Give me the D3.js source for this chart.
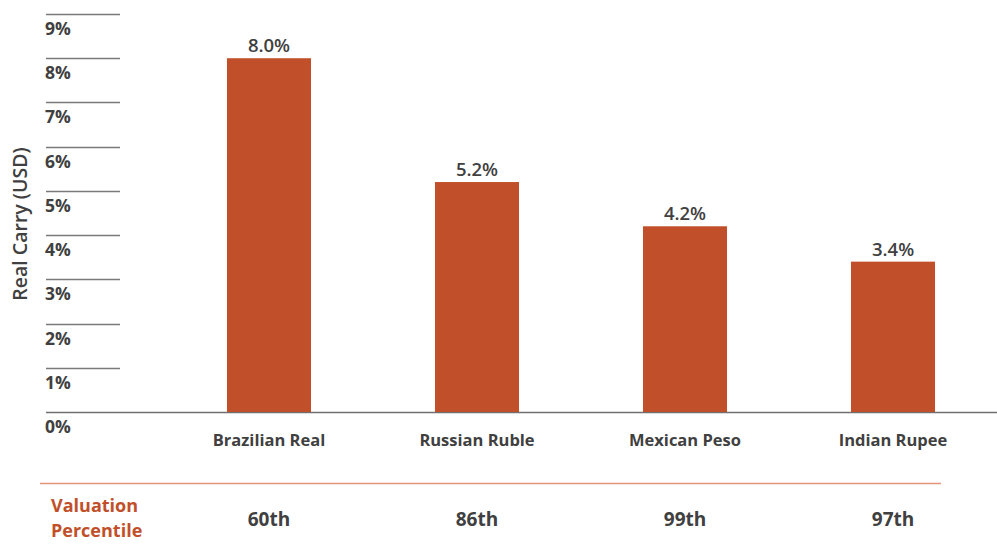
<!DOCTYPE html>
<html>
<head>
<meta charset="utf-8">
<script src="https://cdn.jsdelivr.net/npm/d3@7"></script>
<style>
  html, body { margin: 0; padding: 0; background: #ffffff; }
  svg { display: block; font-family: "Open Sans", "Noto Sans", sans-serif; }
</style>
</head>
<body>
<svg id="chart" width="997" height="547"></svg>
<script>
// Real carry by currency, with valuation percentile shown beneath
const currencies = ["Brazilian Real", "Russian Ruble", "Mexican Peso", "Indian Rupee"];
const realCarry = [8.0, 5.2, 4.2, 3.4];
const percentiles = ["60th", "86th", "99th", "97th"];
const yTicks = [0, 1, 2, 3, 4, 5, 6, 7, 8, 9];

const barColor = "#c1502a";
const textColor = "#404040";
const accent = "#c1502a";

const svg = d3.select("#chart");

const y = d3.scaleLinear().domain([0, 9]).range([412, 14]);
const x = d3.scaleBand().domain(currencies).range([103, 1059]).padding(0.596);

// Horizontal tick rules with labels sitting just under each one
const tick = svg.append("g").selectAll("g").data(yTicks).join("g")
  .attr("transform", d => `translate(0,${Math.round(y(d)) + 0.5})`);
tick.append("line")
  .attr("x1", 46).attr("x2", d => d === 0 ? 997 : 120)
  .attr("stroke", d => d === 0 ? "#707070" : "#7a7a7a")
  .attr("stroke-width", 1.3);
tick.append("text")
  .attr("x", 45).attr("y", 20.5)
  .attr("fill", textColor)
  .attr("font-size", 17.5).attr("font-weight", 700)
  .text(d => d + "%");

// Axis title
svg.append("text")
  .attr("transform", "translate(27,224) rotate(-90)")
  .attr("text-anchor", "middle")
  .attr("fill", textColor)
  .attr("font-size", 19.5).attr("font-weight", 600)
  .text("Real Carry (USD)");

// Bars
const data = currencies.map((c, i) => ({ c, v: realCarry[i], p: percentiles[i] }));
svg.append("g").selectAll("rect").data(data).join("rect")
  .attr("x", d => x(d.c))
  .attr("y", d => y(d.v))
  .attr("width", x.bandwidth())
  .attr("height", d => y(0) - y(d.v))
  .attr("fill", barColor);

// Value labels
svg.append("g").selectAll("text").data(data).join("text")
  .attr("x", d => x(d.c) + x.bandwidth() / 2)
  .attr("y", d => y(d.v) - 6)
  .attr("text-anchor", "middle")
  .attr("fill", textColor)
  .attr("font-size", 18.5).attr("font-weight", 600)
  .text(d => d.v.toFixed(1) + "%");

// Category labels
svg.append("g").selectAll("text").data(data).join("text")
  .attr("x", d => x(d.c) + x.bandwidth() / 2)
  .attr("y", 446)
  .attr("text-anchor", "middle")
  .attr("fill", textColor)
  .attr("font-size", 16.5).attr("font-weight", 700)
  .text(d => d.c);

// Separator
svg.append("line")
  .attr("x1", 40).attr("x2", 941)
  .attr("y1", 483.5).attr("y2", 483.5)
  .attr("stroke", "#e3957b").attr("stroke-width", 1.5);

// Valuation percentile row
const rowLabel = svg.append("text")
  .attr("x", 51).attr("fill", accent)
  .attr("font-size", 18).attr("font-weight", 700);
rowLabel.append("tspan").attr("x", 51).attr("y", 512).text("Valuation");
rowLabel.append("tspan").attr("x", 51).attr("y", 537).text("Percentile");

svg.append("g").selectAll("text").data(data).join("text")
  .attr("x", d => x(d.c) + x.bandwidth() / 2)
  .attr("y", 526)
  .attr("text-anchor", "middle")
  .attr("fill", textColor)
  .attr("font-size", 19).attr("font-weight", 700)
  .text(d => d.p);
</script>
</body>
</html>
